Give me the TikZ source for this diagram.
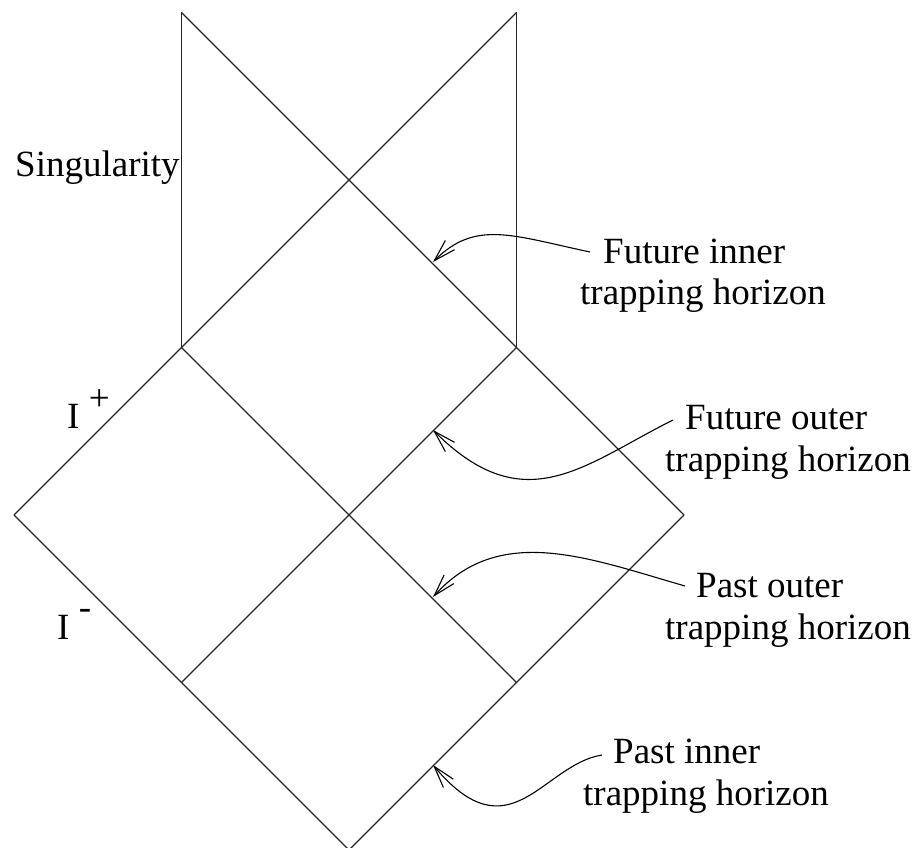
\documentclass[tikz,border=0pt]{standalone}
\usepackage{fontspec}
\setmainfont{Liberation Serif}
\usetikzlibrary{arrows.meta}
\begin{document}
\begin{tikzpicture}[x=1pt,y=1pt,
  edge/.style={line width=1.1pt, black!85},
  pointer/.style={line width=1.1pt, black, -{Straight Barb[length=22pt,width=13pt]}},
  lbl/.style={anchor=base west, inner sep=0pt, font=\fontsize{37}{42}\selectfont}]
\useasboundingbox (0,0) rectangle (922,-848);
% corner points
\coordinate (A) at (181.5,-12.5);
\coordinate (B) at (516.5,-12.5);
\coordinate (C) at (181.5,-347.5);
\coordinate (D) at (516.5,-347.5);
\coordinate (L) at (14,-515);
\coordinate (R) at (684,-515);
\coordinate (E) at (181.5,-682.5);
\coordinate (F) at (516.5,-682.5);
\coordinate (Bot) at (349,-850);
% diagram lines
\draw[edge] (A) -- (C);
\draw[edge] (B) -- (D);
\draw[edge] (A) -- (R);
\draw[edge] (B) -- (L);
\draw[edge] (L) -- (Bot);
\draw[edge] (R) -- (Bot);
\draw[edge] (C) -- (F);
\draw[edge] (D) -- (E);
% labels
\node[lbl] (sing) at (15,-177) {Singularity};
\node[lbl] (iplus) at (67,-428) {I \raisebox{17.6pt}{+}};
\node[lbl] (iminus) at (57,-639) {I \raisebox{19.7pt}{-}};
\node[lbl] (fi1) at (603,-263) {Future inner};
\node[lbl] (fi2) at (580,-305) {trapping horizon};
\node[lbl] (fo1) at (685,-429) {Future outer};
\node[lbl] (fo2) at (665,-471) {trapping horizon};
\node[lbl] (po1) at (696,-597) {Past outer};
\node[lbl] (po2) at (665,-639) {trapping horizon};
\node[lbl] (pi1) at (613,-763) {Past inner};
\node[lbl] (pi2) at (583,-805) {trapping horizon};
% arrow endpoints
\coordinate (s1) at (590,-252);
\coordinate (t1) at (433,-262);
\coordinate (s2) at (673,-420);
\coordinate (t2) at (433,-430);
\coordinate (s3) at (685,-586);
\coordinate (t3) at (433,-597);
\coordinate (s4) at (602,-755);
\coordinate (t4) at (433,-765);
\draw[pointer] (s1) .. controls (511.8,-235.4) and (475.4,-219.6) .. (t1);
\draw[pointer] (s2) .. controls (583.6,-464.7) and (524.9,-521.9) .. (t2);
\draw[pointer] (s3) .. controls (588.9,-558.4) and (499.9,-522.7) .. (t3);
\draw[pointer] (s4) .. controls (542.7,-764.4) and (510.1,-856.9) .. (t4);
\end{tikzpicture}
\end{document}
